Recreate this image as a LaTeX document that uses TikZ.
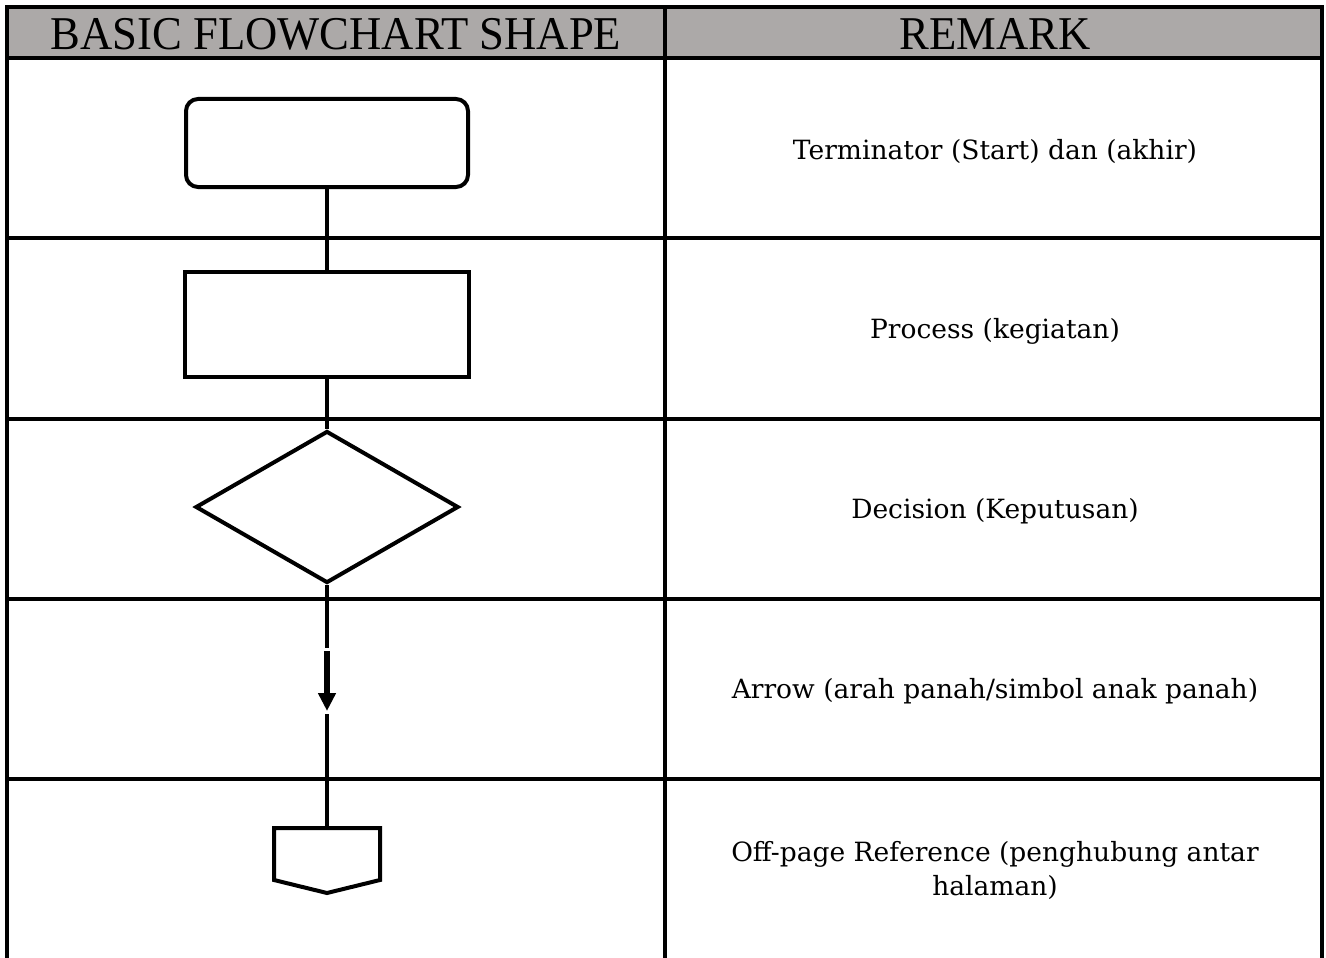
\documentclass[tikz,border=0pt]{standalone}
\usepackage{fontspec}
\setmainfont{DejaVu Serif}
\newfontfamily\headfont{Liberation Serif}
\usetikzlibrary{shapes.geometric,arrows.meta}
\definecolor{headgray}{RGB}{172,169,168}
\begin{document}
\begin{tikzpicture}[x=1pt,y=-1pt,
  gridline/.style={line width=3.3pt,line cap=rect},
  shp/.style={draw,line width=4pt,inner sep=0pt},
  conn/.style={line width=4pt},
  headtxt/.style={font=\headfont\fontsize{47}{50}\selectfont},
  remtxt/.style={font=\fontsize{26.5}{34}\selectfont,align=center}]
\useasboundingbox (0,0) rectangle (1326,958);
% header
\fill[headgray] (7,7) rectangle (1322,58);
\draw[gridline] (7,960) -- (7,7) -- (1322,7) -- (1322,960);
\draw[gridline] (665,7) -- (665,960);
\draw[gridline] (7,58) -- (1322,58);
\draw[gridline] (7,238) -- (1322,238);
\draw[gridline] (7,419) -- (1322,419);
\draw[gridline] (7,599) -- (1322,599);
\draw[gridline] (7,779) -- (1322,779);
\node[headtxt] (h1) at (336,34) {\scalebox{0.95}[1]{BASIC FLOWCHART SHAPE}};
\node[headtxt] (h2) at (995,34) {\scalebox{0.95}[1]{REMARK}};
% shapes
\node[shp,rounded corners=12pt,minimum width=282pt,minimum height=88pt] (term) at (327,143) {};
\node[shp,minimum width=284pt,minimum height=105pt] (proc) at (327,324.5) {};
\node[shp,diamond,minimum width=263pt,minimum height=152pt] (dec) at (327,507) {};
\coordinate (a1) at (327,648);
\coordinate (a2) at (327,651);
\coordinate (a3) at (327,711);
\coordinate (a4) at (327,714);
\coordinate (offtop) at (327,828);
\draw[conn] (term.south) -- (proc.north);
\draw[conn] (proc.south) -- (dec.north);
\draw[conn] (dec.south) -- (a1);
\draw[line width=5.5pt,-{Triangle[width=17pt,length=18pt]}] (a2) -- (a3);
\draw[conn] (a4) -- (offtop);
\draw[shp,line join=miter] (offtop) -- (380,828) -- (380,880) -- (327,893) -- (274,880) -- (274,828) -- cycle;
% remarks
\node[remtxt] (r1) at (995,151) {Terminator (Start) dan (akhir)};
\node[remtxt] (r2) at (995,331) {Process (kegiatan)};
\node[remtxt] (r3) at (995,511) {Decision (Keputusan)};
\node[remtxt] (r4) at (995,691) {Arrow (arah panah/simbol anak panah)};
\node[remtxt] (r5) at (995,870) {Off-page Reference (penghubung antar\\halaman)};
\end{tikzpicture}
\end{document}
